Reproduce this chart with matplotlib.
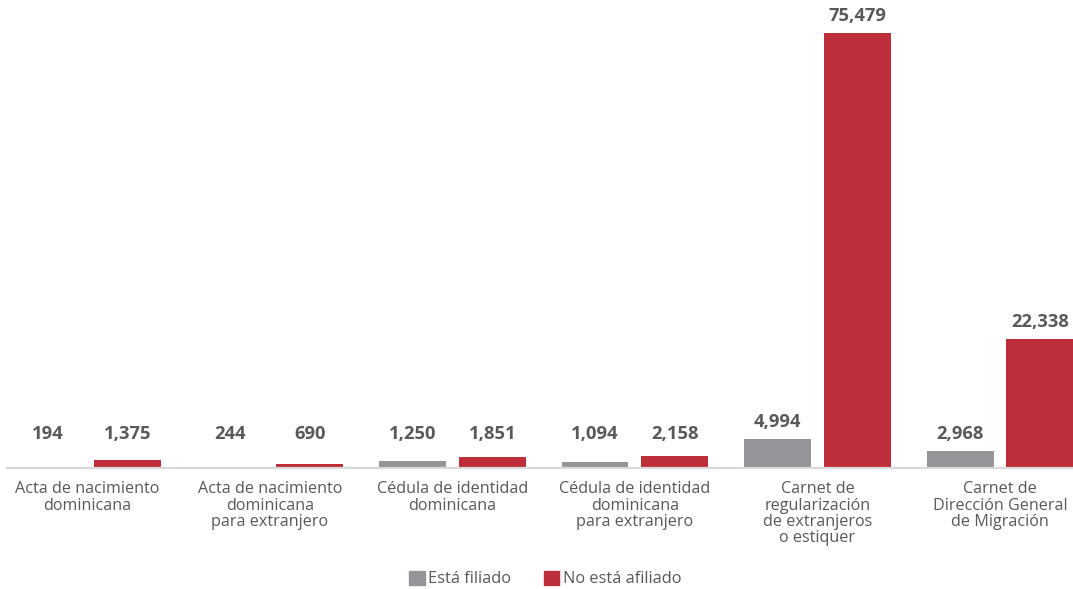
import numpy as np
import matplotlib.pyplot as plt
from matplotlib.patches import Patch

# ---- data ----
categories = [
    "Acta de nacimiento\ndominicana",
    "Acta de nacimiento\ndominicana\npara extranjero",
    "Cédula de identidad\ndominicana",
    "Cédula de identidad\ndominicana\npara extranjero",
    "Carnet de\nregularización\nde extranjeros\no estiquer",
    "Carnet de\nDirección General\nde Migración",
]
filiado = [194, 244, 1250, 1094, 4994, 2968]
no_afiliado = [1375, 690, 1851, 2158, 75479, 22338]
series_names = ["Está filiado", "No está afiliado"]

GRAY = "#939598"
RED = "#BE2D3A"
TEXT = "#595959"
FONT = ["Open Sans", "DejaVu Sans"]

plt.rcParams["font.family"] = FONT

fig = plt.figure(figsize=(10.73, 5.89), dpi=100)
ax = fig.add_axes([0, 0.2054, 1, 0.7946])

x = np.arange(len(categories))
w = 0.367
off = 0.219
ax.bar(x - off, filiado, width=w, color=GRAY)
ax.bar(x + off, no_afiliado, width=w, color=RED)

ax.set_xlim(-0.479, 5.40)
ax.set_ylim(0, 81205)

# labels sit above the bar, but small ones are lifted to a common level
floor = 2968
for xs, vals in ((x - off, filiado), (x + off, no_afiliado)):
    for xi, v in zip(xs, vals):
        ax.annotate(f"{v:,}", (xi, max(v, floor)), xytext=(0, 12.5),
                    textcoords="offset points", ha="center", va="center",
                    fontsize=13.2, fontweight="bold", color=TEXT)

# baseline (drawn over the bar bottoms)
ax.plot([-0.44, 5.40], [0, 0], color="#D9D9D9", lw=1.6, clip_on=False, zorder=3)

for xi, lab in zip(x, categories):
    ax.text(xi, -2300, lab, ha="center", va="top", fontsize=11.6,
            color=TEXT, linespacing=1.02)

for s in ax.spines.values():
    s.set_visible(False)
ax.set_xticks([])
ax.set_yticks([])

handles = [Patch(color=GRAY), Patch(color=RED)]
fig.legend(handles, series_names, loc="center", bbox_to_anchor=(0.508, 0.017),
           ncol=2, frameon=False, fontsize=11.8, labelcolor=TEXT,
           handlelength=0.95, handleheight=0.95, handletextpad=0.2,
           columnspacing=2.0)

fig.savefig("out.png", dpi=100)
